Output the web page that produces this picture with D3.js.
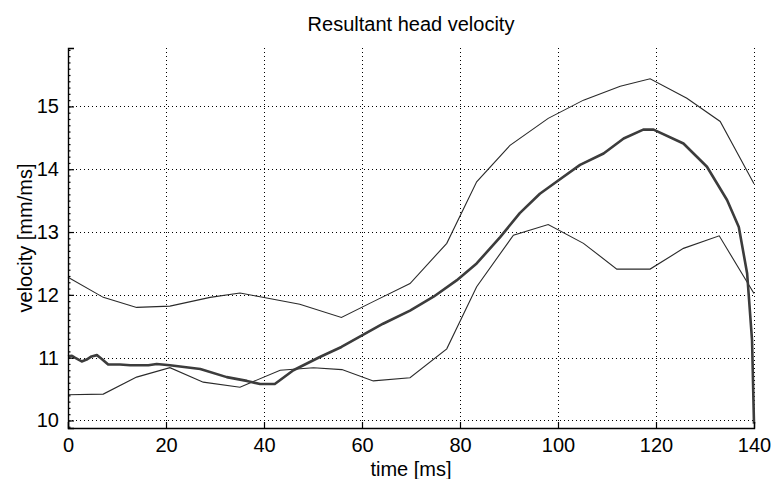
<!DOCTYPE html>
<html>
<head>
<meta charset="utf-8">
<script src="https://cdn.jsdelivr.net/npm/d3@7"></script>
<style>
	body { margin: 0; background: #fff; }
	text { font-family: "Liberation Sans", Arial, sans-serif; fill: #000; }
</style>
</head>
<body>
<div id="chart"></div>
<script>
	// values
	var upperTime = [0, 7.2, 14, 20.8, 29, 35.1, 39.2, 47.3, 55.8, 62.5, 69.8, 77.3, 83.4, 90.2, 98, 105.2, 112.7, 118.8, 126.3, 133.1, 140];
	var upperVel  = [12.28, 11.96, 11.80, 11.82, 11.96, 12.03, 11.97, 11.85, 11.64, 11.90, 12.18, 12.82, 13.80, 14.38, 14.81, 15.10, 15.32, 15.44, 15.13, 14.76, 13.77];

	var lowerTime = [0, 7.2, 14, 20.8, 27.6, 35.1, 43.3, 50.1, 55.9, 62.3, 69.8, 77.3, 83.4, 90.9, 98, 105.2, 112, 118.8, 125.6, 132.9, 140];
	var lowerVel  = [10.41, 10.42, 10.69, 10.84, 10.61, 10.53, 10.80, 10.84, 10.81, 10.63, 10.68, 11.14, 12.13, 12.95, 13.12, 12.82, 12.41, 12.41, 12.74, 12.94, 12.02];

	var meanTime = [0, 0.8, 1.4, 2.8, 3.8, 4.8, 5.9, 6.9, 8.2, 10.6, 12.7, 16.4, 18.1, 20.8, 27, 32.4, 36.5, 39.2, 42.2, 46, 51.4, 55.8, 64.3, 69.8, 74.6, 79.3, 83.4, 88.2, 92.2, 96.3, 99.7, 104.5, 109.3, 113.4, 117.4, 119.5, 125.6, 130.4, 134.5, 136.9, 138.6, 139.6, 140];
	var meanVel  = [11.02, 11.03, 11.0, 10.94, 10.97, 11.02, 11.04, 10.98, 10.89, 10.89, 10.88, 10.88, 10.90, 10.88, 10.82, 10.69, 10.63, 10.58, 10.58, 10.80, 11.01, 11.17, 11.54, 11.75, 11.97, 12.23, 12.50, 12.92, 13.30, 13.61, 13.80, 14.07, 14.25, 14.49, 14.63, 14.63, 14.41, 14.04, 13.51, 13.08, 12.34, 11.28, 9.95];

	var xTicks = [0, 20, 40, 60, 80, 100, 120, 140];
	var yTicks = [10, 11, 12, 13, 14, 15];

	var chartTitle = 'Resultant head velocity';
	var xLabel = 'time [ms]';
	var yLabel = 'velocity [mm/ms]';

	var width = 772, height = 479;
	var plot = {left: 68, right: 754, top: 48, bottom: 428};

	var svg = d3.select('#chart').append('svg')
		.attr('width', width)
		.attr('height', height);

	var x = d3.scaleLinear().domain([0, 140]).range([plot.left, plot.right]);
	var y = d3.scaleLinear().domain([9.88, 15.93]).range([plot.bottom, plot.top]);

	// dotted grid
	var grid = svg.append('g')
		.attr('stroke', '#000')
		.attr('stroke-width', 1)
		.attr('stroke-dasharray', '1,3')
		.attr('shape-rendering', 'crispEdges');
	grid.selectAll('line.v').data(xTicks.slice(1)).enter().append('line')
		.attr('class', 'v')
		.attr('x1', function (d) { return Math.round(x(d)) + 0.5; })
		.attr('x2', function (d) { return Math.round(x(d)) + 0.5; })
		.attr('y1', plot.top).attr('y2', plot.bottom);
	grid.selectAll('line.h').data(yTicks).enter().append('line')
		.attr('class', 'h')
		.attr('y1', function (d) { return Math.round(y(d)) + 0.5; })
		.attr('y2', function (d) { return Math.round(y(d)) + 0.5; })
		.attr('x1', plot.left).attr('x2', plot.right);

	// series
	function series(t, v) {
		return t.map(function (d, i) { return [d, v[i]]; });
	}
	var line = d3.line()
		.x(function (d) { return x(d[0]); })
		.y(function (d) { return y(d[1]); });

	svg.append('path')
		.datum(series(upperTime, upperVel))
		.attr('fill', 'none').attr('stroke', '#2a2a2a').attr('stroke-width', 1.1)
		.attr('d', line);
	svg.append('path')
		.datum(series(lowerTime, lowerVel))
		.attr('fill', 'none').attr('stroke', '#2a2a2a').attr('stroke-width', 1.1)
		.attr('d', line);
	svg.append('path')
		.datum(series(meanTime, meanVel))
		.attr('fill', 'none').attr('stroke', '#3c3c3c').attr('stroke-width', 2.6)
		.attr('stroke-linejoin', 'round')
		.attr('d', line);

	// axes (ticks inward, box off)
	var xAxis = d3.axisBottom(x).tickValues(xTicks).tickSize(-6).tickPadding(10).tickFormat(d3.format('d'));
	var gx = svg.append('g')
		.attr('transform', 'translate(0,' + plot.bottom + ')')
		.call(xAxis);

	var yMinor = d3.range(99, 160).map(function (d) { return d / 10; });
	var gym = svg.append('g')
		.attr('transform', 'translate(' + plot.left + ',0)')
		.call(d3.axisLeft(y).tickValues(yMinor).tickSize(-2.5).tickFormat(''));
	gym.select('.domain').remove();

	var yAxis = d3.axisLeft(y).tickValues(yTicks).tickSize(-6).tickPadding(9).tickFormat(d3.format('d'));
	var gy = svg.append('g')
		.attr('transform', 'translate(' + plot.left + ',0)')
		.call(yAxis);

	[gx, gy, gym].forEach(function (g) {
		g.selectAll('path, line').attr('stroke', '#000').attr('stroke-width', 1.2);
		g.selectAll('text').style('font-size', '20px').attr('fill', '#000');
		g.select('.domain').attr('stroke-width', 1.4);
	});

	// labels
	svg.append('text')
		.attr('x', 411).attr('y', 31)
		.attr('text-anchor', 'middle')
		.style('font-size', '20px')
		.text(chartTitle);
	svg.append('text')
		.attr('x', 411).attr('y', 476)
		.attr('text-anchor', 'middle')
		.style('font-size', '20px')
		.text(xLabel);
	svg.append('text')
		.attr('transform', 'translate(32,' + (plot.top + plot.bottom) / 2 + ') rotate(-90)')
		.attr('text-anchor', 'middle')
		.style('font-size', '20px')
		.text(yLabel);
</script>
</body>
</html>
